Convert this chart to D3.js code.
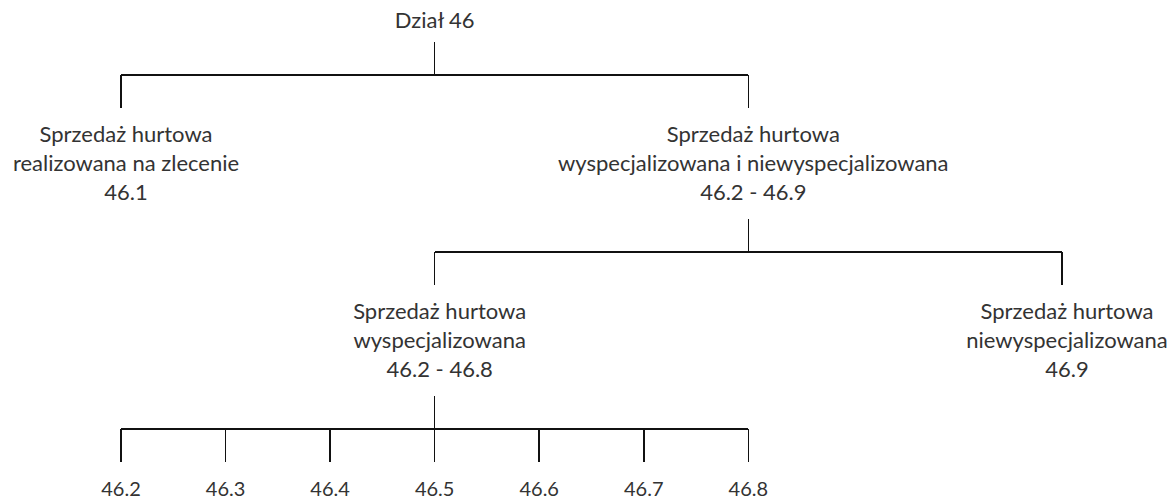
<!DOCTYPE html>
<html>
<head>
<meta charset="utf-8">
<script src="https://cdn.jsdelivr.net/npm/d3@7"></script>
<style>
  body { margin: 0; background: #fff; }
  svg { display: block; }
</style>
</head>
<body>
<div id="chart"></div>
<script>
// tree structure: id, parent, label lines, column slot on the leaf grid
const nodeIds     = ["d46", "n461", "n4629", "n4628", "n469", "n462", "n463", "n464", "n465", "n466", "n467", "n468"];
const nodeParents = [null, "d46", "d46", "n4629", "n4629", "n4628", "n4628", "n4628", "n4628", "n4628", "n4628", "n4628"];
const nodeLabels  = [
  ["Dział 46"],
  ["Sprzedaż hurtowa", "realizowana na zlecenie", "46.1"],
  ["Sprzedaż hurtowa", "wyspecjalizowana i niewyspecjalizowana", "46.2 - 46.9"],
  ["Sprzedaż hurtowa", "wyspecjalizowana", "46.2 - 46.8"],
  ["Sprzedaż hurtowa", "niewyspecjalizowana", "46.9"],
  ["46.2"], ["46.3"], ["46.4"], ["46.5"], ["46.6"], ["46.7"], ["46.8"]
];
const nodeColumns = [3, 0, 6, 3, 9, 0, 1, 2, 3, 4, 5, 6];

const width = 1169, height = 502;

const table = nodeIds.map((id, i) => ({
  id, parentId: nodeParents[i], lines: nodeLabels[i], col: nodeColumns[i]
}));
const root = d3.stratify()(table);

const x = d3.scaleLinear().domain([0, 9]).range([121, 1062]);
// y of the connector bar above each depth
const barY = d3.scaleLinear().domain([1, 3]).range([75, 429]);
const stem = 33;
const lineGap = 29;

const svg = d3.select("#chart").append("svg")
  .attr("width", width)
  .attr("height", height);

const font = "Lato, 'Open Sans', sans-serif";

// connectors
const links = svg.append("g")
  .attr("stroke", "#111")
  .attr("stroke-width", 1.5)
  .attr("fill", "none")
  .attr("shape-rendering", "crispEdges");

root.descendants().filter(d => d.children).forEach(p => {
  const by = barY(p.depth + 1);
  const xs = p.children.map(c => x(c.data.col));
  links.append("line")
    .attr("x1", x(p.data.col)).attr("x2", x(p.data.col))
    .attr("y1", by - stem).attr("y2", by);
  links.append("line")
    .attr("x1", d3.min(xs)).attr("x2", d3.max(xs))
    .attr("y1", by).attr("y2", by);
  links.selectAll(null)
    .data(p.children)
    .join("line")
    .attr("x1", c => x(c.data.col)).attr("x2", c => x(c.data.col))
    .attr("y1", by).attr("y2", by + stem);
});

// labels
const labels = svg.append("g")
  .attr("font-family", font)
  .attr("font-size", 22)
  .attr("fill", "#333")
  .attr("text-anchor", "middle");

labels.selectAll("text")
  .data(root.descendants())
  .join("text")
  .attr("x", d => x(d.data.col) + (d.data.lines.length > 1 ? 5 : 0))
  .attr("y", d => d.depth === 0 ? 28 : barY(d.depth) + 67)
  .attr("font-size", d => d.children || d.depth < 3 ? null : 20)
  .each(function (d) {
    const t = d3.select(this);
    d.data.lines.forEach((line, i) => {
      t.append("tspan")
        .attr("x", t.attr("x"))
        .attr("dy", i === 0 ? 0 : lineGap)
        .text(line);
    });
  });
</script>
</body>
</html>
